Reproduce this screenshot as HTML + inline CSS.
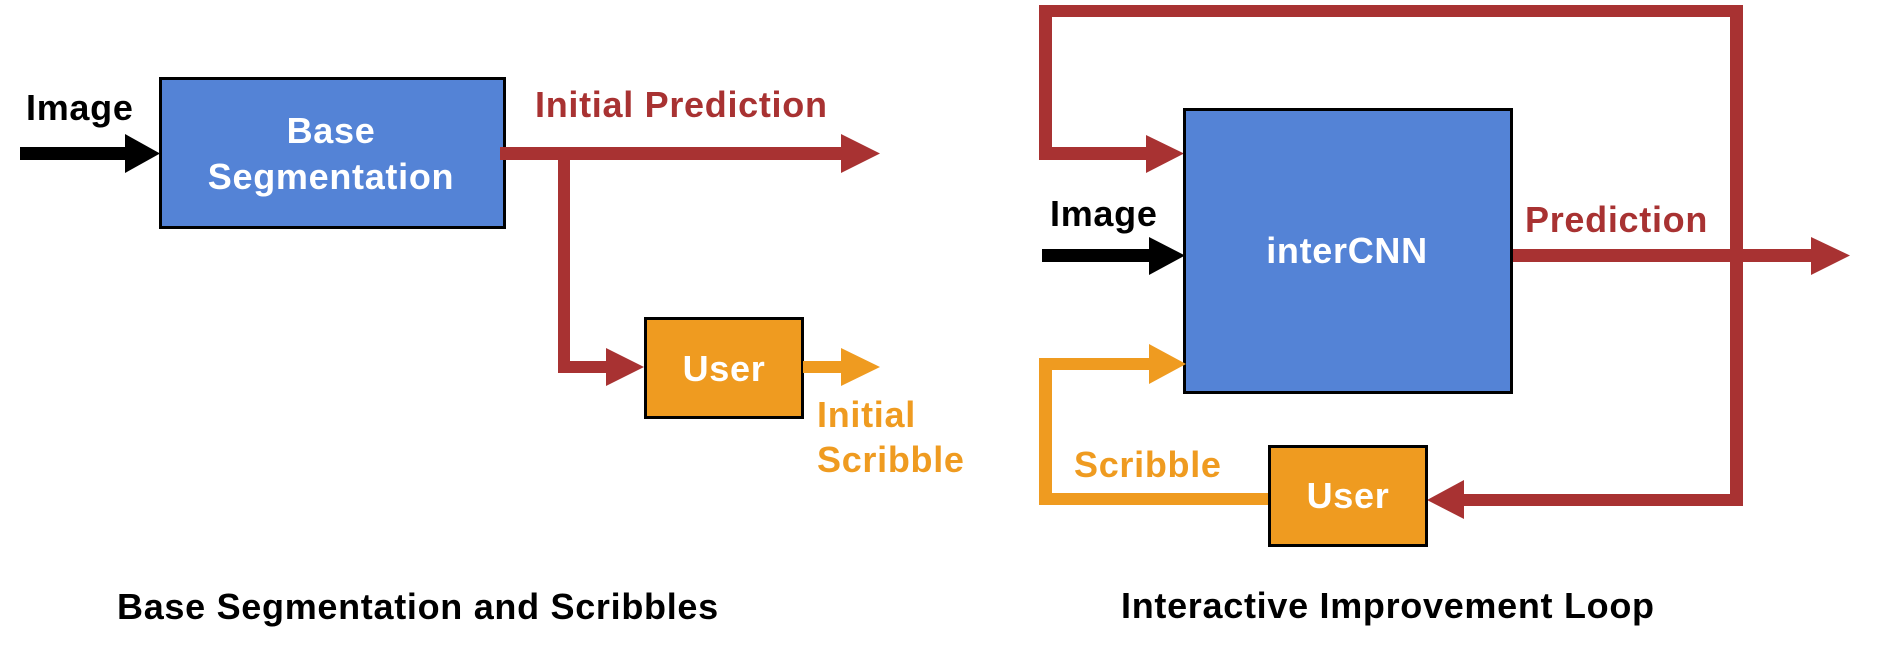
<!DOCTYPE html>
<html><head><meta charset="utf-8"><style>
html,body{margin:0;padding:0;background:#fff;}
svg{display:block;}
text{font-family:"Liberation Sans",Arial,sans-serif;font-weight:bold;font-size:36px;letter-spacing:0.7px;}
</style></head><body>
<svg width="1885" height="647" viewBox="0 0 1885 647" xmlns="http://www.w3.org/2000/svg">
<!-- LEFT PANEL -->
<rect x="20" y="147" width="110" height="13" fill="#000"/>
<polygon points="125,134 160,153.5 125,173" fill="#000"/>
<text x="26" y="120">Image</text>
<rect x="160.5" y="78.5" width="344" height="149" fill="#5483D6" stroke="#000" stroke-width="3"/>
<text x="331" y="143" fill="#fff" text-anchor="middle">Base</text>
<text x="331" y="189" fill="#fff" text-anchor="middle">Segmentation</text>
<rect x="500" y="147" width="345" height="13" fill="#A83232"/>
<polygon points="841,134 880,153.5 841,173" fill="#A83232"/>
<text x="535" y="117" fill="#A83232">Initial Prediction</text>
<rect x="558" y="153" width="12" height="220" fill="#A83232"/>
<rect x="558" y="361" width="52" height="12" fill="#A83232"/>
<polygon points="606,348 644,367 606,386" fill="#A83232"/>
<rect x="645.5" y="318.5" width="157" height="99" fill="#EF9B20" stroke="#000" stroke-width="3"/>
<text x="724" y="381" fill="#fff" text-anchor="middle">User</text>
<rect x="803" y="361" width="42" height="12" fill="#EF9B20"/>
<polygon points="841,348 880,367 841,386" fill="#EF9B20"/>
<text x="817" y="427" fill="#EF9B20">Initial</text>
<text x="817" y="472" fill="#EF9B20">Scribble</text>
<text x="117" y="619">Base Segmentation and Scribbles</text>

<!-- RIGHT PANEL -->
<rect x="1039" y="5" width="704" height="12" fill="#A83232"/>
<rect x="1039" y="5" width="13" height="155" fill="#A83232"/>
<rect x="1039" y="147" width="112" height="13" fill="#A83232"/>
<polygon points="1146,135 1184,153.5 1146,173" fill="#A83232"/>
<rect x="1730" y="5" width="13" height="501" fill="#A83232"/>
<rect x="1512" y="249" width="302" height="13" fill="#A83232"/>
<polygon points="1811,237 1850,255.5 1811,275" fill="#A83232"/>
<text x="1525" y="232" fill="#A83232">Prediction</text>
<text x="1050" y="226">Image</text>
<rect x="1042" y="249" width="110" height="13" fill="#000"/>
<polygon points="1149,237 1185,255.5 1149,275" fill="#000"/>
<rect x="1184.5" y="109.5" width="327" height="283" fill="#5483D6" stroke="#000" stroke-width="3"/>
<text x="1347" y="263" fill="#fff" text-anchor="middle">interCNN</text>
<rect x="1039" y="358" width="13" height="147" fill="#EF9B20"/>
<rect x="1039" y="358" width="114" height="12" fill="#EF9B20"/>
<polygon points="1149,344 1186,364 1149,384" fill="#EF9B20"/>
<rect x="1039" y="493" width="230" height="12" fill="#EF9B20"/>
<text x="1074" y="477" fill="#EF9B20">Scribble</text>
<rect x="1460" y="494" width="283" height="12" fill="#A83232"/>
<polygon points="1464,480 1427,500 1464,519" fill="#A83232"/>
<rect x="1269.5" y="446.5" width="157" height="99" fill="#EF9B20" stroke="#000" stroke-width="3"/>
<text x="1348" y="508" fill="#fff" text-anchor="middle">User</text>
<text x="1121" y="618">Interactive Improvement Loop</text>
</svg>
</body></html>
